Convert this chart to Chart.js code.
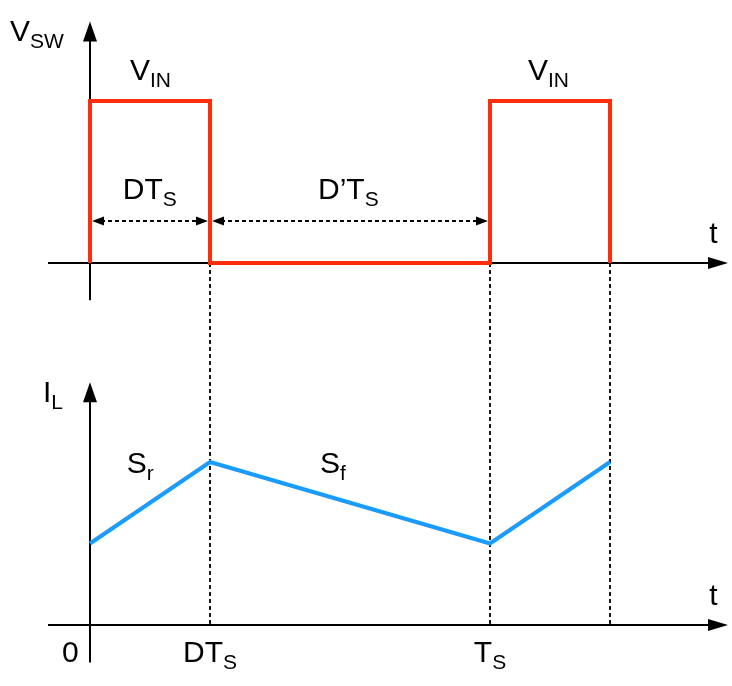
<!DOCTYPE html>
<html>
<head>
<meta charset="utf-8">
<script src="https://cdn.jsdelivr.net/npm/chart.js@4.4.1/dist/chart.umd.min.js"></script>
<style>
  html, body { margin: 0; padding: 0; background: #fff; }
  #wrap { width: 732px; height: 686px; }
</style>
</head>
<body>
<div id="wrap"><canvas id="c" width="732" height="686"></canvas></div>
<script>
// time in units of the period T, D = 0.3
const switchTimes = [0, 0.3, 1, 1.3];
// switch node voltage (normalised to V_IN)
const vswTime = [0, 0, 0.3, 0.3, 1, 1, 1.3, 1.3];
const vswLevel = [0, 1, 1, 0, 0, 1, 1, 0];
// inductor current (normalised to peak)
const ilTime = [0, 0.3, 1, 1.3];
const ilLevel = [0.5, 1, 0.5, 1];
// tick labels under the bottom time axis
const tickTimes = [0, 0.3, 1];
const tickMain = ['0', 'DT', 'T'];
const tickSub = ['', 'S', 'S'];

const RED = '#ff2d0a';
const BLUE = '#1a9bff';
const FONT = '"Liberation Sans", Arial, Helvetica, sans-serif';

function toPoints(xs, ys) {
    return xs.map(function (x, i) { return { x: x, y: ys[i] }; });
}

function textSub(ctx, main, sub, x, y) {
    ctx.font = '30px ' + FONT;
    ctx.fillStyle = '#000';
    ctx.textAlign = 'left';
    ctx.textBaseline = 'alphabetic';
    ctx.fillText(main, x, y);
    const w = ctx.measureText(main).width;
    if (sub) {
        ctx.font = '21px ' + FONT;
        ctx.fillText(sub, x + w, y + 7);
    }
}

function arrowHead(ctx, x, y, dir, len, half) {
    // dir: 'up' | 'right' | 'left'
    ctx.beginPath();
    if (dir === 'up') {
        ctx.moveTo(x, y); ctx.lineTo(x - half, y + len); ctx.lineTo(x + half, y + len);
    } else if (dir === 'right') {
        ctx.moveTo(x, y); ctx.lineTo(x - len, y - half); ctx.lineTo(x - len, y + half);
    } else {
        ctx.moveTo(x, y); ctx.lineTo(x + len, y - half); ctx.lineTo(x + len, y + half);
    }
    ctx.closePath();
    ctx.fill();
}

const diagram = {
    id: 'diagram',
    beforeDatasetsDraw: function (chart) {
        const ctx = chart.ctx;
        const xs = chart.scales.x, yv = chart.scales.yV, yi = chart.scales.yI;
        const X = function (t) { return xs.getPixelForValue(t); };
        ctx.save();
        ctx.strokeStyle = '#000';
        ctx.fillStyle = '#000';

        // dashed switching instants
        ctx.lineWidth = 1.8;
        ctx.setLineDash([4, 3]);
        switchTimes.slice(1).forEach(function (t) {
            ctx.beginPath();
            ctx.moveTo(Math.round(X(t)), yv.getPixelForValue(0));
            ctx.lineTo(Math.round(X(t)), yi.getPixelForValue(0));
            ctx.stroke();
        });

        // dimension arrows DT_S and D'T_S
        const ya = yv.getPixelForValue(0.26);
        ctx.lineWidth = 2;
        [[0, 0.3], [0.3, 1]].forEach(function (seg) {
            const a = X(seg[0]) + 2, b = X(seg[1]) - 2;
            ctx.setLineDash([4, 3]);
            ctx.beginPath();
            ctx.moveTo(a + 9, ya); ctx.lineTo(b - 9, ya);
            ctx.stroke();
            ctx.setLineDash([]);
            arrowHead(ctx, a, ya, 'left', 12, 4.5);
            arrowHead(ctx, b, ya, 'right', 12, 4.5);
        });
        ctx.setLineDash([]);

        // axes
        ctx.lineWidth = 2;
        [yv, yi].forEach(function (ys) {
            const y0 = ys.getPixelForValue(0);
            const x0 = X(0);
            const xl = X(-0.105), xr = X(1.595);
            const yb = ys.getPixelForValue(-0.23), yt = ys.getPixelForValue(1.49);
            ctx.beginPath();
            ctx.moveTo(xl, y0); ctx.lineTo(xr - 15, y0);
            ctx.moveTo(x0, yb); ctx.lineTo(x0, yt + 15);
            ctx.stroke();
            arrowHead(ctx, xr, y0, 'right', 20, 6);
            arrowHead(ctx, x0, yt, 'up', 20, 7);
        });
        ctx.restore();
    },
    afterDraw: function (chart) {
        const ctx = chart.ctx;
        const xs = chart.scales.x, yv = chart.scales.yV, yi = chart.scales.yI;
        const X = function (t) { return xs.getPixelForValue(t); };
        ctx.save();

        textSub(ctx, 'V', 'SW', 10, yv.getPixelForValue(1.37));
        textSub(ctx, 'V', 'IN', X(0.1), yv.getPixelForValue(1.13));
        textSub(ctx, 'V', 'IN', X(1.095), yv.getPixelForValue(1.13));
        textSub(ctx, 'DT', 'S', X(0.082), yv.getPixelForValue(0.395));
        textSub(ctx, 'D\u2019T', 'S', X(0.57), yv.getPixelForValue(0.395));
        textSub(ctx, 't', '', X(1.548), yv.getPixelForValue(0.125));

        textSub(ctx, 'I', 'L', 43, yi.getPixelForValue(1.37));
        textSub(ctx, 'S', 'r', X(0.092), yi.getPixelForValue(0.93));
        textSub(ctx, 'S', 'f', X(0.575), yi.getPixelForValue(0.93));
        textSub(ctx, 't', '', X(1.548), yi.getPixelForValue(0.125));

        // tick labels below bottom axis
        const yt = yi.getPixelForValue(-0.225);
        tickTimes.forEach(function (t, i) {
            let x;
            if (i === 0) x = X(t) - 28;
            else {
                ctx.font = '30px ' + FONT;
                const w1 = ctx.measureText(tickMain[i]).width;
                ctx.font = '21px ' + FONT;
                const w2 = ctx.measureText(tickSub[i]).width;
                x = X(t) - (w1 + w2) / 2;
            }
            textSub(ctx, tickMain[i], tickSub[i], x, yt);
        });
        ctx.restore();
    }
};

new Chart(document.getElementById('c').getContext('2d'), {
    type: 'scatter',
    data: {
        datasets: [
            {
                data: toPoints(vswTime, vswLevel),
                yAxisID: 'yV',
                showLine: true,
                borderColor: RED,
                borderWidth: 4,
                pointRadius: 0,
                borderJoinStyle: 'miter',
                clip: false
            },
            {
                data: toPoints(ilTime, ilLevel),
                yAxisID: 'yI',
                showLine: true,
                borderColor: BLUE,
                borderWidth: 4,
                pointRadius: 0,
                borderJoinStyle: 'miter',
                clip: false
            }
        ]
    },
    options: {
        responsive: false,
        animation: false,
        events: [],
        layout: { padding: 0 },
        plugins: { legend: { display: false }, tooltip: { enabled: false } },
        scales: {
            x: { type: 'linear', display: false, min: -0.225, max: 1.605 },
            yV: { type: 'linear', display: false, min: -(686 - 263) / 162, max: 263 / 162 },
            yI: { type: 'linear', display: false, min: -(686 - 625) / 163, max: 625 / 163 }
        }
    },
    plugins: [diagram]
});
</script>
</body>
</html>
